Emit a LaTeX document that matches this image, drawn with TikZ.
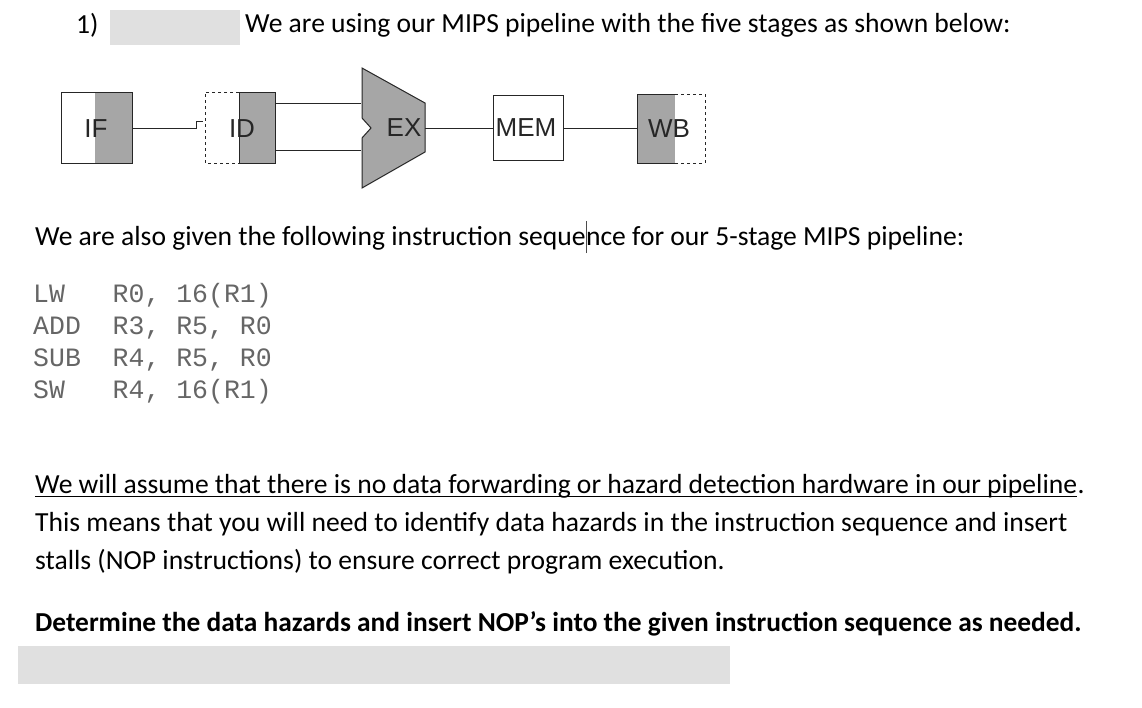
\documentclass[tikz,border=0pt]{standalone}
\usepackage{fontspec}
\setmainfont{Carlito}
\newfontfamily\arialf{Liberation Sans}
\newfontfamily\courf{Liberation Mono}
\begin{document}
\begin{tikzpicture}[x=1pt,y=-1pt,
  txt/.style={anchor=west,inner sep=0pt,font=\fontsize{27.6}{32}\selectfont},
  code/.style={anchor=west,inner sep=0pt,font=\courf\fontsize{26.5}{30}\selectfont,text=black!60},
  lab/.style={font=\arialf\fontsize{26}{30}\selectfont,inner sep=0pt,text=black!85},
  gr/.style={fill=black!35},
  ln/.style={line width=1pt,black!85}]
\useasboundingbox (0,0) rectangle (1142,707);
\fill[white] (0,0) rectangle (1142,707);
% header
\node[txt] (n1) at (76,25) {1)};
\fill[black!12] (110,10) rectangle (240,45);
\node[txt] (h) at (245,25) {We are using our MIPS pipeline with the five stages as shown below:};
% IF
\fill[gr] (95,92) rectangle (132,163);
\draw[ln] (61,92) rectangle (132,163);
\node[lab] (IF) at (96,129) {IF};
% ID
\fill[gr] (239,92) rectangle (275,163);
\draw[ln,dashed,line width=0.7pt] (239,92) -- (205,92) -- (205,163) -- (239,163);
\draw[ln] (239,92) rectangle (275,163);
\node[lab] (ID) at (242,129) {ID};
% EX
\draw[ln,fill=black!35] (362,68) -- (425,103) -- (425,152) -- (362,188) -- (362,138) -- (371,128) -- (362,118) -- cycle;
\node[lab] (EX) at (404,128) {EX};
% MEM
\draw[ln] (493,95) rectangle (563,160);
\node[lab] (MEM) at (526,128) {MEM};
% WB
\fill[gr] (637,94) rectangle (675,163);
\draw[ln] (675,94) -- (637,94) -- (637,163) -- (675,163);
\draw[ln,dashed,line width=0.7pt] (675,94) -- (705,94) -- (705,163) -- (675,163);
\node[lab] (WB) at (669,129) {WB};
% connectors
\draw[ln] (132,128) -- (196,128) -- (196,121) -- (203,121);
\draw[ln] (275,103) -- (361,103);
\draw[ln] (275,150) -- (361,150);
\draw[ln] (425,128) -- (493,128);
\draw[ln] (563,128) -- (637,128);
% text
\node[txt] (t2) at (35,238) {We are also given the following instruction seque};
\node[txt,anchor=base west] (t2b) at (t2.base east) {nce for our 5-stage MIPS pipeline:};
\draw[black!70] ([yshift=-8pt]t2b.base west) -- ([yshift=24pt]t2b.base west);
\node[code] (c1) at (33,296) {LW\ \ \ R0,\ 16(R1)};
\node[code] (c2) at (33,328) {ADD\ \ R3,\ R5,\ R0};
\node[code] (c3) at (33,360) {SUB\ \ R4,\ R5,\ R0};
\node[code] (c4) at (33,392) {SW\ \ \ R4,\ 16(R1)};
\node[txt] (p1) at (35,486) {We will assume that there is no data forwarding or hazard detection hardware in our pipeline};
\node[txt,anchor=base west] at (p1.base east) {.};
\draw[line width=1pt] ([yshift=-3pt]p1.base west) -- ([yshift=-3pt]p1.base east);
\node[txt] (p2) at (35,524) {This means that you will need to identify data hazards in the instruction sequence and insert};
\node[txt] (p3) at (35,562) {stalls (NOP instructions) to ensure correct program execution.};
\node[txt,font=\bfseries\fontsize{27.4}{32}\selectfont] (p4) at (35,624) {Determine the data hazards and insert NOP’s into the given instruction sequence as needed.};
\fill[black!12] (18,646) rectangle (730,684);
\end{tikzpicture}
\end{document}
